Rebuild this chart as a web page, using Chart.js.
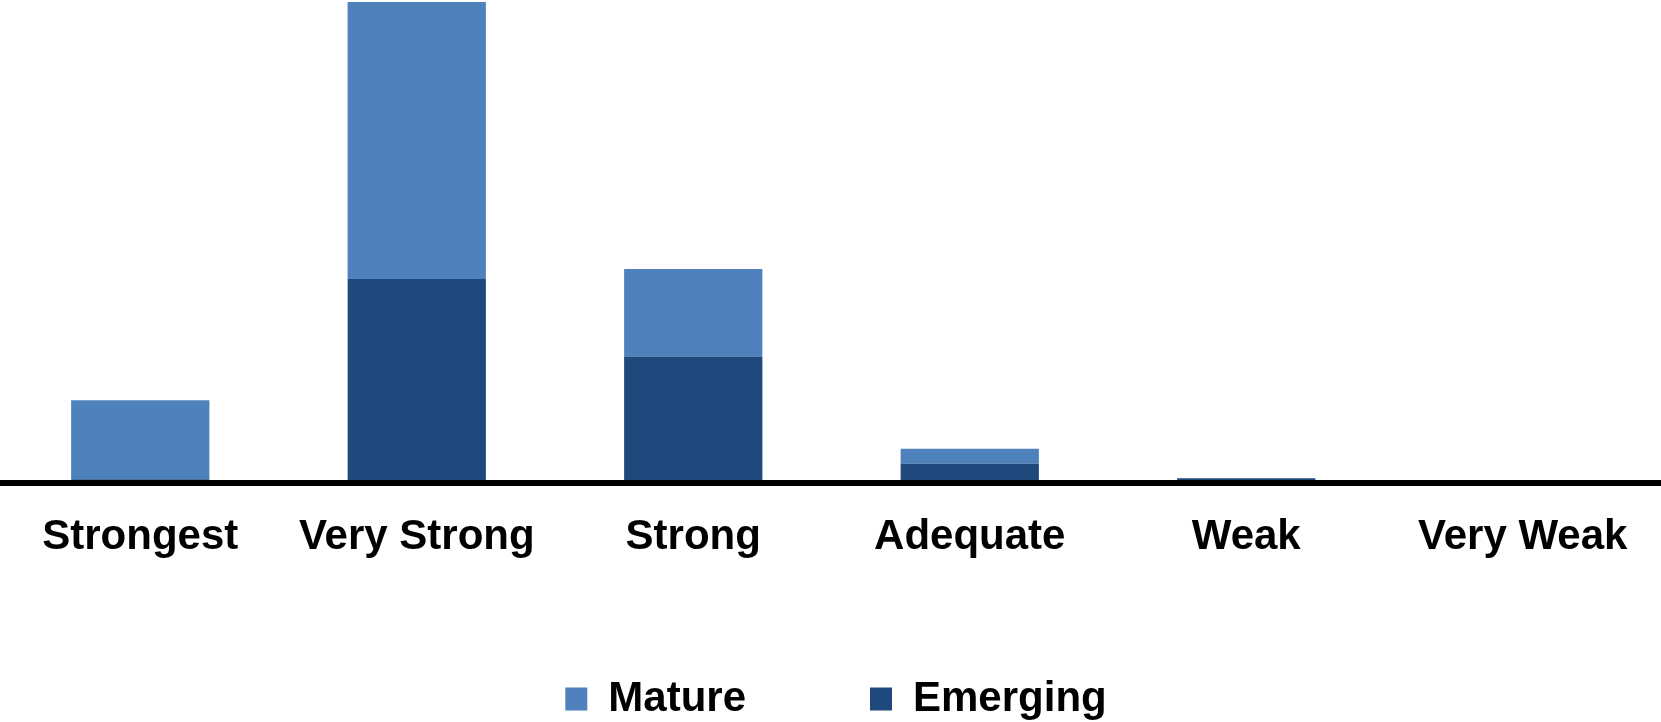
<!DOCTYPE html>
<html>
<head>
<meta charset="utf-8">
<script src="https://cdn.jsdelivr.net/npm/chart.js@4/dist/chart.umd.min.js"></script>
<style>
  html, body { margin: 0; padding: 0; background: #fff; overflow: hidden; }
  canvas { display: block; }
</style>
</head>
<body>
<canvas id="chart" width="1661" height="722"></canvas>
<script>
// Rating categories along the x axis
const categories = ['Strongest', 'Very Strong', 'Strong', 'Adequate', 'Weak', 'Very Weak'];
// Stacked segments (Emerging on the bottom, Mature on top)
const emerging = [0.8, 42.4, 26.3, 4.0, 1.0, 0];
const mature = [16.4, 57.6, 18.2, 3.1, 0, 0];
const seriesNames = ['Emerging', 'Mature'];
const seriesColors = ['#1F497D', '#4F81BD'];

Chart.defaults.font.family = "'Liberation Sans', Arial, sans-serif";
Chart.defaults.color = '#000';

const LEGEND_GAP = 124;      // horizontal space between the two legend entries
const LEGEND_ITEM_TOP = 678; // top edge of the legend row

// Places the legend row at a fixed height and shifts it slightly sideways
const legendOffset = {
  id: 'legendOffset',
  afterLayout(chart) {
    const lg = chart.legend;
    if (!lg) return;
    const dx = 4;
    lg.left += dx; lg.right += dx;
    lg.top = LEGEND_ITEM_TOP - LEGEND_GAP;
    lg.bottom = chart.height;
    lg.height = lg.bottom - lg.top;
  }
};

new Chart(document.getElementById('chart'), {
  type: 'bar',
  data: {
    labels: categories,
    datasets: [
      { label: seriesNames[0], data: emerging, backgroundColor: seriesColors[0], borderWidth: 0 },
      { label: seriesNames[1], data: mature, backgroundColor: seriesColors[1], borderWidth: 0 }
    ]
  },
  options: {
    responsive: false,
    animation: false,
    events: [],
    layout: { padding: { top: 2, left: 2, right: -1, bottom: 0 } },
    datasets: { bar: { categoryPercentage: 1, barPercentage: 0.5 } },
    scales: {
      x: {
        stacked: true,
        grid: { display: false },
        border: { display: true, color: '#000', width: 6, z: 1 },
        ticks: {
          font: { size: 42, weight: 'bold' },
          color: '#000',
          padding: 21,
          maxRotation: 0,
          autoSkip: false
        },
        afterFit(scale) { scale.height = 100; }
      },
      y: {
        stacked: true,
        display: false,
        min: 0,
        max: 100
      }
    },
    plugins: {
      legend: {
        position: 'bottom',
        reverse: true,
        maxHeight: 139,
        labels: {
          boxWidth: 22,
          boxHeight: 23,
          padding: LEGEND_GAP,
          color: '#000',
          font: { size: 42, weight: 'bold' }
        }
      },
      tooltip: { enabled: false }
    }
  },
  plugins: [legendOffset]
});
</script>
</body>
</html>
